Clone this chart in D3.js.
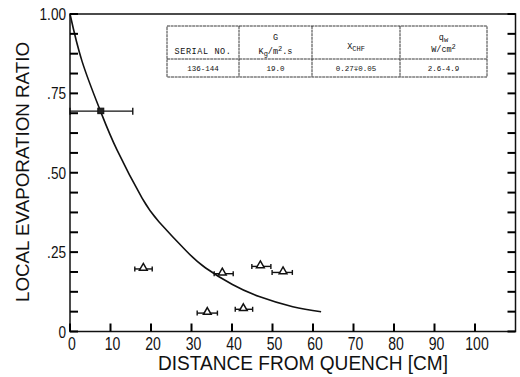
<!DOCTYPE html>
<meta charset="utf-8">
<script src="https://d3js.org/d3.v7.js"></script>
<style>
  body { margin: 0; background: #fff; }
  text { fill: #111; }
</style>
<div id="my_dataviz"></div>
<script>

// values
const curveX = [0, 3, 7.5, 11.6, 17.8, 22, 28.6, 33.5, 40.1, 46.7, 55, 62];
const curveY = [1.0, 0.85, 0.695, 0.572, 0.42, 0.345, 0.255, 0.2, 0.148, 0.11, 0.078, 0.062];

const triX   = [18.1, 37.6, 33.9, 42.8, 47.0, 52.6];
const triY   = [0.197, 0.182, 0.058, 0.070, 0.205, 0.186];
const triLo  = [16.0, 35.6, 31.4, 40.8, 44.9, 49.9];
const triHi  = [20.3, 40.3, 36.4, 45.1, 49.6, 54.9];

const sqX = [7.6], sqY = [0.694], sqLo = [0], sqHi = [15.5];

const xTicks = [0, 10, 20, 30, 40, 50, 60, 70, 80, 90, 100];
const yTicks = [0, 0.25, 0.5, 0.75, 1.0];
const yTickLabels = ["0", ".25", ".50", ".75", "1.00"];

const tableRow = ["136-144", "19.0", "0.27\u22130.05", "2.6-4.9"];

const W = 520, H = 377;
const svg = d3.select("#my_dataviz").append("svg")
  .attr("width", W).attr("height", H);

const x = d3.scaleLinear().domain([0, 110]).range([70, 515.5]);
const y = d3.scaleLinear().domain([0, 1]).range([331.5, 14]);

const ink = "#111";
const sans = "'Liberation Sans',Arial,sans-serif";

// frame
svg.append("rect")
  .attr("x", x(0)).attr("y", y(1))
  .attr("width", x(110) - x(0)).attr("height", y(0) - y(1))
  .attr("fill", "none").attr("stroke", ink).attr("stroke-width", 1.5);

// tick labels (narrow lettering)
svg.selectAll(".ylab").data(yTicks).join("text").attr("class", "ylab")
  .attr("transform", d => `translate(${x(0) - 4},${y(d) + 6}) scale(0.8,1)`)
  .attr("text-anchor", "end")
  .style("font-family", sans).style("font-size", "17px")
  .text((d, i) => yTickLabels[i]);

svg.selectAll(".xlab").data(xTicks).join("text").attr("class", "xlab")
  .attr("transform", d => `translate(${x(d) + 2},${349.5}) scale(0.74,1)`)
  .attr("text-anchor", "middle")
  .style("font-family", sans).style("font-size", "19px")
  .text(d => d);

// axis titles
svg.append("text")
  .attr("x", 158).attr("y", 370)
  .attr("textLength", 290).attr("lengthAdjust", "spacingAndGlyphs")
  .style("font-family", sans).style("font-size", "20px")
  .text("DISTANCE FROM QUENCH  [CM]");

svg.append("text")
  .attr("transform", "translate(29,302) rotate(-90)")
  .attr("textLength", 260).attr("lengthAdjust", "spacingAndGlyphs")
  .style("font-family", sans).style("font-size", "18px")
  .text("LOCAL  EVAPORATION  RATIO");

// curve
const line = d3.line()
  .x((d, i) => x(curveX[i])).y(d => y(d))
  .curve(d3.curveNatural);
svg.append("path").datum(curveY)
  .attr("d", line)
  .attr("fill", "none").attr("stroke", ink).attr("stroke-width", 1.6);

// error bars
function bars(xs, ys, lo, hi, cap) {
  const g = svg.append("g").attr("stroke", ink).attr("stroke-width", 1.4);
  xs.forEach((d, i) => {
    g.append("line").attr("x1", x(lo[i])).attr("x2", x(hi[i]))
      .attr("y1", y(ys[i])).attr("y2", y(ys[i]));
    [lo[i], hi[i]].forEach(v => {
      g.append("line").attr("x1", x(v)).attr("x2", x(v))
        .attr("y1", y(ys[i]) - cap).attr("y2", y(ys[i]) + cap);
    });
  });
}
bars(triX, triY, triLo, triHi, 2.5);
bars(sqX, sqY, sqLo, sqHi, 3.5);

// triangles
const tri = d3.symbol().type(d3.symbolTriangle).size(26);
svg.selectAll(".tri").data(triX).join("path").attr("class", "tri")
  .attr("transform", (d, i) => `translate(${x(d)},${y(triY[i]) - 1})`)
  .attr("d", tri)
  .attr("fill", "#fff").attr("stroke", ink).attr("stroke-width", 1.5);

svg.selectAll(".sq").data(sqX).join("rect").attr("class", "sq")
  .attr("x", d => x(d) - 3).attr("y", (d, i) => y(sqY[i]) - 3)
  .attr("width", 6).attr("height", 5.5)
  .attr("fill", "#222").attr("stroke", ink);

// table
const colX = [167, 239, 312, 400, 487];
const rowY = [26, 59, 77];
const tg = svg.append("g").attr("stroke", "#222").attr("stroke-width", 0.9)
  .attr("stroke-dasharray", "3,0.6").attr("fill", "none");
tg.append("rect").attr("x", colX[0]).attr("y", rowY[0])
  .attr("width", colX[4] - colX[0]).attr("height", rowY[2] - rowY[0]).attr("fill", "#fff");
tg.append("line").attr("x1", colX[0]).attr("x2", colX[4]).attr("y1", rowY[1]).attr("y2", rowY[1]);
colX.slice(1, 4).forEach(c => tg.append("line").attr("x1", c).attr("x2", c)
  .attr("y1", rowY[0]).attr("y2", rowY[2]));

const mono = "'Liberation Mono','DejaVu Sans Mono',monospace";
const cx = i => (colX[i] + colX[i + 1]) / 2;
function tt(xx, yy, size) {
  return svg.append("text").attr("x", xx).attr("y", yy)
    .attr("text-anchor", "middle")
    .style("font-family", mono).style("font-size", (size || 8.5) + "px");
}
tt(cx(0), 54).style("letter-spacing", "0.6px").text("SERIAL NO.");
tt(cx(1), 40).text("G");
const g2 = tt(cx(1), 54);
g2.append("tspan").text("K");
g2.append("tspan").attr("dy", 2).style("font-size", "7px").text("g");
g2.append("tspan").attr("dy", -2).text("/m");
g2.append("tspan").attr("dy", -3).style("font-size", "7px").text("2");
g2.append("tspan").attr("dy", 3).text(".s");
const g3 = tt(cx(2), 49);
g3.append("tspan").text("X");
g3.append("tspan").attr("dy", 2).style("font-size", "7px").text("CHF");
const g4 = tt(cx(3), 40);
g4.append("tspan").text("q");
g4.append("tspan").attr("dy", 2).style("font-size", "7px").text("w");
const g5 = tt(cx(3), 52);
g5.append("tspan").text("W/cm");
g5.append("tspan").attr("dy", -3).style("font-size", "7px").text("2");
tableRow.forEach((s, i) => tt(cx(i), 71, 7.5).text(s));

// ticks, pointing inward; y minor every 1/16 -- drawn last, on top
const yMinor = d3.range(0, 17).map(d => d / 16);
const ticks = svg.append("g").attr("class", "ticks")
  .attr("stroke", "#000").attr("stroke-width", 2);
ticks.selectAll("line.yl").data(yMinor).join("line").attr("class", "yl")
  .attr("x1", x(0)).attr("x2", x(0) + 8)
  .attr("y1", d => y(d)).attr("y2", d => y(d));
ticks.selectAll("line.yr").data(yMinor).join("line").attr("class", "yr")
  .attr("x1", x(110) - 8).attr("x2", x(110))
  .attr("y1", d => y(d)).attr("y2", d => y(d));
ticks.selectAll("line.xb").data(xTicks).join("line").attr("class", "xb")
  .attr("x1", d => x(d)).attr("x2", d => x(d))
  .attr("y1", y(0) - 8).attr("y2", y(0));

</script>
